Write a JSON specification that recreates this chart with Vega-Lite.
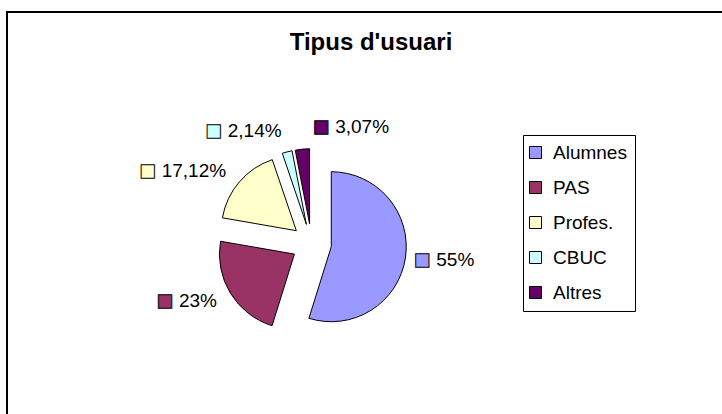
{
  "$schema": "https://vega.github.io/schema/vega-lite/v6.json",
  "width": 718,
  "height": 405,
  "autosize": {"type": "none"},
  "padding": {"left": 7, "top": 12, "right": -3, "bottom": -3},
  "background": "white",
  "title": {"text": "Tipus d'usuari", "font": "Liberation Sans", "fontSize": 24, "fontWeight": "bold", "color": "black", "anchor": "middle", "frame": "group", "baseline": "alphabetic", "offset": 0, "dx": 5, "dy": 62},
  "config": {"view": {"stroke": "black", "strokeWidth": 2}},
  "data": {"values": [
    {"tipus": "Alumnes", "valor": 55, "etiqueta": "55%"},
    {"tipus": "PAS", "valor": 23, "etiqueta": "23%"},
    {"tipus": "Profes.", "valor": 17.12, "etiqueta": "17,12%"},
    {"tipus": "CBUC", "valor": 2.14, "etiqueta": "2,14%"},
    {"tipus": "Altres", "valor": 3.07, "etiqueta": "3,07%"}
  ]},
  "transform": [
    {"window": [{"op": "sum", "field": "valor", "as": "fi"}], "frame": [null, 0]},
    {"joinaggregate": [{"op": "sum", "field": "valor", "as": "total"}]},
    {"calculate": "datum.fi - datum.valor", "as": "inici"},
    {"calculate": "(datum.inici + datum.fi) / 2", "as": "mig"},
    {"calculate": "2 * PI * datum.mig / datum.total", "as": "angle"},
    {"calculate": "sin(datum.angle)", "as": "ux"},
    {"calculate": "cos(datum.angle)", "as": "uy"},
    {"calculate": "datum.ux < -0.15", "as": "esquerra"}
  ],
  "encoding": {
    "x": {"field": "ux", "type": "quantitative", "scale": {"domain": [-1, 1], "range": [284.5, 324.5], "nice": false, "zero": false}, "axis": null},
    "y": {"field": "uy", "type": "quantitative", "scale": {"domain": [-1, 1], "range": [251.7, 211.7], "nice": false, "zero": false}, "axis": null}
  },
  "layer": [
    {
      "mark": {"type": "arc", "radius": 75, "stroke": "black", "strokeWidth": 1},
      "encoding": {
        "theta": {"field": "inici", "type": "quantitative", "scale": {"domain": [0, 100.33]}},
        "theta2": {"field": "fi"},
        "color": {
          "field": "tipus", "type": "nominal",
          "scale": {"domain": ["Alumnes", "PAS", "Profes.", "CBUC", "Altres"], "range": ["#9999FF", "#993366", "#FFFFCC", "#CCFFFF", "#660066"]},
          "legend": {"title": null, "orient": "none", "legendX": 516, "legendY": 123, "strokeColor": "black", "fillColor": "white", "padding": 8, "symbolType": "square", "symbolSize": 144, "symbolStrokeColor": "black", "symbolStrokeWidth": 1, "symbolOpacity": 1, "symbolOffset": -5, "labelFont": "Liberation Sans", "labelFontSize": 19, "labelColor": "black", "labelOffset": 8, "rowPadding": 15, "labelLimit": 300, "cornerRadius": 0}
        }
      }
    },
    {
      "mark": {"type": "text", "radius": {"expr": "84 + 13 * abs(datum.uy)"}, "font": "Liberation Sans", "fontSize": 19, "baseline": "middle", "color": "black",
        "align": {"expr": "datum.esquerra ? 'right' : 'left'"},
        "dx": {"expr": "datum.esquerra ? 0 : 20 + 15 * max(0, datum.uy)"}},
      "encoding": {
        "theta": {"field": "mig", "type": "quantitative", "stack": null},
        "text": {"field": "etiqueta"}
      }
    },
    {
      "mark": {"type": "text", "radius": {"expr": "84 + 13 * abs(datum.uy)"}, "font": "DejaVu Sans", "fontSize": 17.5, "baseline": "middle", "align": "center", "stroke": "black", "strokeWidth": 1,
        "dx": {"expr": "datum.esquerra ? -(10.56 * (length(datum.etiqueta) - 1) + 16.89 - (indexof(datum.etiqueta, ',') >= 0 ? 5.28 : 0) + 14) : 6 + 15 * max(0, datum.uy)"}},
      "encoding": {
        "theta": {"field": "mig", "type": "quantitative", "stack": null},
        "text": {"value": "■"},
        "fill": {
          "field": "tipus", "type": "nominal",
          "scale": {"domain": ["Alumnes", "PAS", "Profes.", "CBUC", "Altres"], "range": ["#9999FF", "#993366", "#FFFFCC", "#CCFFFF", "#660066"]},
          "legend": null
        }
      }
    }
  ]
}
